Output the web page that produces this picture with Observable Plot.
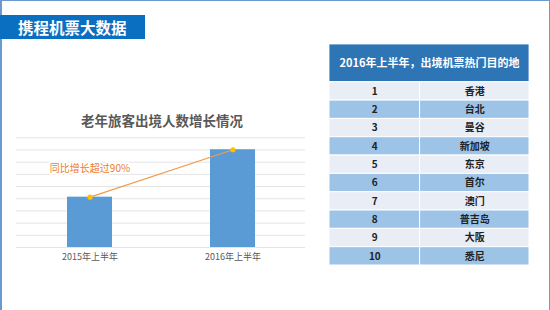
<!DOCTYPE html>
<html>
<head>
<meta charset="utf-8">
<script src="https://cdn.jsdelivr.net/npm/d3@7"></script>
<script src="https://cdn.jsdelivr.net/npm/@observablehq/plot@0.6"></script>
<style>
  html, body { margin: 0; padding: 0; background: #fff; }
  body { width: 550px; height: 310px; position: relative; overflow: hidden; font-family: "Noto Sans CJK SC", "Noto Sans", sans-serif; }
  #frame { position: absolute; left: 0; top: 0; width: 550px; height: 310px; box-sizing: border-box;
           border-left: 2px solid #6a9bd0; border-top: 1.5px solid #6a9bd0; border-right: 1.5px solid #6a9bd0; }
  #banner { position: absolute; left: 0; top: 15px; width: 145px; height: 24px; background: #0b6fc1;
            color: #fff; font-weight: bold; font-size: 15.5px; line-height: 24px; padding-left: 18px; box-sizing: border-box; white-space: nowrap; }
  #ctitle { position: absolute; left: 0; top: 110px; width: 324px; text-align: center; font-size: 13.5px;
            font-weight: bold; color: #595959; line-height: 20px; }
  #chart { position: absolute; left: 0; top: 100px; }
  #table { position: absolute; left: 329px; top: 44px; }
</style>
</head>
<body>
<div id="frame"></div>
<div id="banner">携程机票大数据</div>
<div id="ctitle">老年旅客出境人数增长情况</div>
<div id="chart"></div>
<div id="table"></div>
<script>
// ---- data ----
const periods = ["2015年上半年", "2016年上半年"];
const travellers = [4.13, 8.02];
const gridTicks = [0, 1, 2, 3, 4, 5, 6, 7, 8, 9];
const annotationText = ["同比增长超过90%"];
const annotationAt = ["2015年上半年"];
const annotationValue = [6.46];

const tableTitle = "2016年上半年，出境机票热门目的地";
const ranks = ["1", "2", "3", "4", "5", "6", "7", "8", "9", "10"];
const cities = ["香港", "台北", "曼谷", "新加坡", "东京", "首尔", "澳门", "普吉岛", "大阪", "悉尼"];

const font = "'Noto Sans CJK SC', 'Noto Sans', sans-serif";

// ---- bar + line chart ----
const barData = periods.map((p, i) => ({period: p, value: travellers[i]}));
const annData = annotationText.map((t, i) => ({text: t, period: annotationAt[i], value: annotationValue[i]}));

const chart = Plot.plot({
  width: 310,
  height: 170,
  marginLeft: 16,
  marginRight: 5,
  marginTop: 37.3,
  marginBottom: 23,
  style: {fontFamily: font, fontSize: "9px", color: "#595959", background: "transparent"},
  x: {domain: periods, paddingInner: 0.687, paddingOuter: 0.349, align: 0.5, label: null, tickSize: 0, tickPadding: 6},
  y: {domain: [0, 9], axis: null},
  marks: [
    Plot.ruleY(gridTicks, {stroke: "#e4e4e4", strokeWidth: 1}),
    Plot.barY(barData, {x: "period", y: "value", fill: "#5b9bd5"}),
    Plot.line(barData, {x: "period", y: "value", stroke: "#f29a4e", strokeWidth: 1.2}),
    Plot.dot(barData, {x: "period", y: "value", r: 2.6, fill: "#ffbf00", stroke: "none"}),
    Plot.text(annData, {x: "period", y: "value", text: "text", fill: "#ed7d31", fontSize: 10,
      stroke: "#fff", strokeWidth: 4, paintOrder: "stroke"})
  ]
});
document.getElementById("chart").appendChild(chart);

// ---- ranking table ----
const headerRows = 2.06;
const split = 0.453;
const headerData = [{label: tableTitle, y1: 0, y2: headerRows}];
const cellData = [];
ranks.forEach((r, i) => {
  const fill = i % 2 === 0 ? "#e9edf5" : "#9dc3e6";
  cellData.push({text: r, x1: 0, x2: split, y1: headerRows + i, y2: headerRows + i + 1, fill});
  cellData.push({text: cities[i], x1: split, x2: 1, y1: headerRows + i, y2: headerRows + i + 1, fill});
});

const table = Plot.plot({
  width: 200,
  height: 221,
  margin: 0,
  style: {fontFamily: font, background: "transparent"},
  x: {domain: [0, 1], range: [0, 200], axis: null},
  y: {domain: [0, headerRows + ranks.length], range: [0, 221], axis: null},
  marks: [
    Plot.rect(headerData, {x1: 0, x2: 1, y1: "y1", y2: "y2", fill: "#2e75b6", stroke: "#fff", strokeWidth: 0.8}),
    Plot.text(headerData, {x: () => 0.5, y: d => (d.y1 + d.y2) / 2, text: "label", fill: "#fff",
      fontSize: 11, fontWeight: "bold"}),
    Plot.rect(cellData, {x1: "x1", x2: "x2", y1: "y1", y2: "y2", fill: "fill", stroke: "#fff", strokeWidth: 1}),
    Plot.text(cellData, {x: d => (d.x1 + d.x2) / 2, y: d => (d.y1 + d.y2) / 2, text: "text",
      fill: "#222", fontSize: 10, fontWeight: "bold"})
  ]
});
document.getElementById("table").appendChild(table);
</script>
</body>
</html>
